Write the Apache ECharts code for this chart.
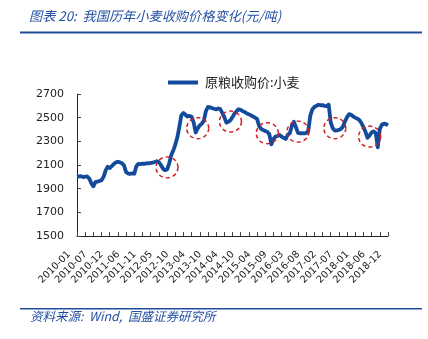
<!DOCTYPE html>
<html>
<head>
<meta charset="utf-8">
<script src="https://cdn.jsdelivr.net/npm/echarts@6/dist/echarts.min.js"></script>
<style>
  html, body { margin: 0; padding: 0; background: #fff; }
  #chart { width: 428px; height: 339px; }
</style>
</head>
<body>
<div id="chart"></div>
<script>
// Axis labels shown under every second tick (ticks every 4 samples, labels every 8)
const tickLabels = [
  '2010-01', '2010-07', '2010-12', '2011-06', '2011-11', '2012-05', '2012-10',
  '2013-04', '2013-10', '2014-04', '2014-10', '2015-04', '2015-09', '2016-03',
  '2016-08', '2017-02', '2017-07', '2018-01', '2018-06', '2018-12'
];

// 原粮收购价:小麦 (元/吨), sampled roughly every 1.4 months from 2010-01 to 2018-12
const wheatPrice = [
  2000, 2003, 2005, 1998, 2002, 2003, 1985, 1945, 1920, 1955,
  1960, 1965, 1972, 2000, 2055, 2085, 2075, 2090, 2108, 2122,
  2128, 2122, 2115, 2095, 2040, 2028, 2025, 2030, 2026, 2090,
  2110, 2108, 2112, 2110, 2115, 2113, 2117, 2120, 2125, 2132,
  2125, 2100, 2070, 2055, 2062, 2110, 2180, 2220, 2270, 2330,
  2420, 2520, 2539, 2525, 2510, 2515, 2508, 2460, 2375, 2410,
  2435, 2450, 2475, 2555, 2590, 2588, 2580, 2575, 2570, 2578,
  2572, 2540, 2505, 2458, 2465, 2478, 2505, 2535, 2555, 2572,
  2565, 2555, 2548, 2535, 2528, 2520, 2510, 2500, 2490, 2430,
  2405, 2395, 2388, 2380, 2360, 2275, 2320, 2340, 2345, 2355,
  2340, 2330, 2320, 2355, 2369, 2430, 2465, 2420, 2372, 2368,
  2370, 2368, 2370, 2385, 2515, 2570, 2590, 2600, 2609, 2605,
  2606, 2600, 2598, 2610, 2460, 2410, 2391, 2393, 2396, 2405,
  2425, 2470, 2505, 2530, 2525, 2510, 2500, 2492, 2480, 2455,
  2420, 2380, 2330, 2350, 2375, 2383, 2370, 2250, 2405, 2440,
  2450, 2445, 2435
];

// Dashed rings highlighting the seasonal dips: [sample index, price]
const dipMarks = [
  [43.6, 2080], [59.3, 2411], [74.8, 2467], [92.7, 2369],
  [108.1, 2382], [126, 2411], [143.1, 2340]
];

const yTicks = { min: 1500, max: 2700, step: 200 };

const LABEL_EVERY = 8;
const categories = wheatPrice.map((_, i) =>
  i % LABEL_EVERY === 0 ? (tickLabels[i / LABEL_EVERY] || '') : ''
);

const blue = '#124a9c';
const headBlue = '#2450a4';
const cjk = '"Noto Sans CJK SC", "Noto Sans", sans-serif';
const axisFont = '"DejaVu Sans", Verdana, sans-serif';

const chart = echarts.init(document.getElementById('chart'), null, { renderer: 'canvas' });

chart.setOption({
  animation: false,
  backgroundColor: '#fff',
  grid: { left: 77, right: 40, top: 94, bottom: 103, containLabel: false },
  legend: {
    left: 163,
    top: 71,
    icon: 'rect',
    itemWidth: 30,
    itemHeight: 4,
    itemGap: 6,
    textStyle: { fontFamily: cjk, fontSize: 13, color: '#222', padding: [0, 0, 0, 2] },
    data: ['原粮收购价:小麦']
  },
  xAxis: {
    type: 'category',
    data: categories,
    boundaryGap: false,
    axisLine: { lineStyle: { color: '#222', width: 1 } },
    axisTick: { inside: true, length: 4, interval: 3, lineStyle: { color: '#444' } },
    axisLabel: {
      interval: LABEL_EVERY - 1,
      rotate: 45,
      margin: 9,
      padding: [0, 11, 0, 0],
      fontFamily: axisFont,
      fontSize: 9.8,
      color: '#222'
    },
    splitLine: { show: false }
  },
  yAxis: {
    type: 'value',
    min: yTicks.min,
    max: yTicks.max,
    interval: yTicks.step,
    axisLine: { show: true, lineStyle: { color: '#222', width: 1 } },
    axisTick: { show: true, inside: true, length: 4, lineStyle: { color: '#444' } },
    axisLabel: {
      fontFamily: axisFont, fontSize: 11, color: '#222', margin: 13,
      formatter: v => String(v)
    },
    splitLine: { show: false }
  },
  series: [{
    name: '原粮收购价:小麦',
    type: 'line',
    data: wheatPrice,
    showSymbol: false,
    symbol: 'none',
    lineStyle: { color: blue, width: 3.8, join: 'round' },
    itemStyle: { color: blue },
    markPoint: {
      symbol: 'circle',
      symbolSize: [22, 21],
      silent: true,
      label: { show: false },
      itemStyle: {
        color: 'rgba(0,0,0,0)',
        borderColor: '#d0202a',
        borderWidth: 1.5,
        borderType: [4, 3]
      },
      data: dipMarks.map(p => ({ coord: p }))
    }
  }],
  graphic: [
    {
      type: 'text', left: 29, top: 9,
      style: {
        text: '图表 20:  我国历年小麦收购价格变化(元/吨)',
        fontFamily: cjk, fontSize: 13.2, fontStyle: 'italic', fill: headBlue
      }
    },
    {
      type: 'rect', shape: { x: 20, y: 31.5, width: 402, height: 2 },
      style: { fill: '#1f4d99' }
    },
    {
      type: 'rect', shape: { x: 20, y: 308, width: 402, height: 1.6 },
      style: { fill: '#1f4d99' }
    },
    {
      type: 'text', left: 30, top: 310,
      style: {
        text: '资料来源:  Wind,  国盛证券研究所',
        fontFamily: cjk, fontSize: 12.5, fontStyle: 'italic', fill: headBlue
      }
    }
  ]
});
</script>
</body>
</html>
